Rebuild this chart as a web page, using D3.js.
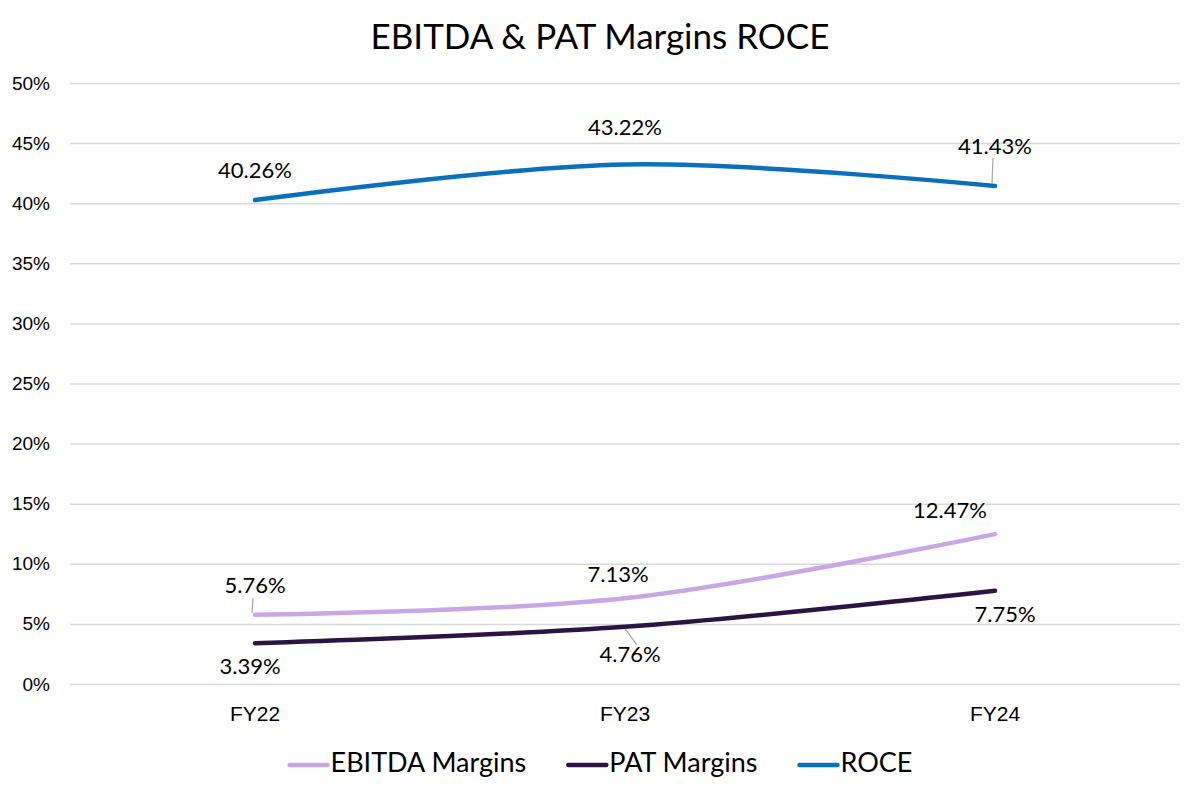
<!DOCTYPE html>
<html lang="en">
  <head>
    <meta charset="UTF-8" />
    <title>EBITDA & PAT Margins ROCE</title>
    <style>
      body { margin: 0; background: #fff; }
      svg { font-family: Lato, 'Open Sans', sans-serif; }
    </style>
  </head>
  <body>
    <svg id="chart"></svg>
    <script src="https://d3js.org/d3.v7.min.js"></script>
    <script>
      const years = ['FY22', 'FY23', 'FY24'];
      const ebitdaMargins = [5.76, 7.13, 12.47];
      const patMargins = [3.39, 4.76, 7.75];
      const roce = [40.26, 43.22, 41.43];
      const yTicks = [0, 5, 10, 15, 20, 25, 30, 35, 40, 45, 50];

      const series = [
        { name: 'EBITDA Margins', values: ebitdaMargins, color: '#c8a8e2',
          // label offsets [dx, dy] from the point, optional leader line
          labels: [[0, -27, true], [-7, -22], [-45, -22]] },
        { name: 'PAT Margins', values: patMargins, color: '#2b1441',
          labels: [[-5, 25], [5, 30, true], [10, 26]] },
        { name: 'ROCE', values: roce, color: '#0b70bb',
          labels: [[0, -28], [0, -35], [0, -38, true]] },
      ];

      function getConfig() {
        let width = 1200;
        let height = 800;
        let margin = { top: 83, left: 70, right: 20, bottom: 116 };
        let bodyWidth = width - margin.left - margin.right;
        let bodyHeight = height - margin.top - margin.bottom;
        let container = d3.select('#chart').attr('width', width).attr('height', height);
        return { width, height, margin, bodyWidth, bodyHeight, container };
      }

      function getScales(config) {
        let xScale = d3.scaleBand().domain(years).range([0, config.bodyWidth]);
        let yScale = d3.scaleLinear().domain([0, 50]).range([config.bodyHeight, 0]);
        return { xScale, yScale };
      }

      function drawAxes(scales, config) {
        let { xScale, yScale } = scales;
        let { container, margin, bodyWidth, bodyHeight } = config;
        let body = container.append('g').attr('transform', `translate(${margin.left},${margin.top})`);

        // gridlines
        body.append('g')
          .call(d3.axisLeft(yScale).tickValues(yTicks).tickSize(-bodyWidth).tickFormat(''))
          .call((g) => g.select('.domain').remove())
          .call((g) => g.selectAll('line').attr('stroke', '#d9d9d9').attr('stroke-width', 1.5));

        // y labels
        body.append('g')
          .call(d3.axisLeft(yScale).tickValues(yTicks).tickSize(0).tickPadding(20).tickFormat((d) => d + '%'))
          .call((g) => g.select('.domain').remove())
          .call((g) => g.selectAll('text').attr('font-size', 19).attr('fill', '#000').attr('font-family', null));

        // x labels
        body.append('g')
          .attr('transform', `translate(0,${bodyHeight})`)
          .call(d3.axisBottom(xScale).tickSize(0).tickPadding(22))
          .call((g) => g.select('.domain').remove())
          .call((g) => g.selectAll('text').attr('font-size', 21).attr('fill', '#000').attr('font-family', null));
        return body;
      }

      function drawLines(body, scales) {
        let { xScale, yScale } = scales;
        let cx = (i) => xScale(years[i]) + xScale.bandwidth() / 2;
        let line = d3.line()
          .x((d, i) => cx(i))
          .y((d) => yScale(d))
          .curve(d3.curveCatmullRom.alpha(0.5));

        series.forEach((s) => {
          body.append('path')
            .attr('d', line(s.values))
            .attr('fill', 'none')
            .attr('stroke', s.color)
            .attr('stroke-width', 4.5)
            .attr('stroke-linecap', 'round');
        });

        series.forEach((s) => {
          s.values.forEach((v, i) => {
            let [dx, dy, leader] = s.labels[i];
            let px = cx(i);
            let py = yScale(v);
            if (leader) {
              let sx = dy < 0 ? -4 : -14;
              body.append('line')
                .attr('x1', px + (dy < 0 ? -3 : 0))
                .attr('y1', py + (dy < 0 ? -2 : 2))
                .attr('x2', px + dx + sx / 2 + (dy < 0 ? 0 : 14))
                .attr('y2', py + dy + (dy < 0 ? 10 : -12))
                .attr('stroke', '#a6a6a6')
                .attr('stroke-width', 1.2);
            }
            body.append('text')
              .attr('x', px + dx)
              .attr('y', py + dy)
              .attr('text-anchor', 'middle')
              .attr('dominant-baseline', 'middle')
              .attr('font-size', 22)
              .text(v.toFixed(2) + '%');
          });
        });
      }

      function drawTitle(config) {
        config.container.append('text')
          .attr('x', config.width / 2)
          .attr('y', 40)
          .attr('text-anchor', 'middle')
          .attr('dominant-baseline', 'middle')
          .attr('font-size', 35)
          .text('EBITDA & PAT Margins ROCE');
      }

      function drawLegend(config) {
        let legend = config.container.append('g');
        let x = 0;
        let swatch = 40;
        let gap = 40;
        series.forEach((s) => {
          let item = legend.append('g').attr('transform', `translate(${x},0)`);
          item.append('line')
            .attr('x1', 2).attr('x2', swatch)
            .attr('y1', 0).attr('y2', 0)
            .attr('stroke', s.color)
            .attr('stroke-width', 4.5)
            .attr('stroke-linecap', 'round');
          let t = item.append('text')
            .attr('x', swatch + 3)
            .attr('y', 0)
            .attr('dominant-baseline', 'middle')
            .attr('font-size', 27)
            .text(s.name);
          x += swatch + 3 + t.node().getComputedTextLength() + gap;
        });
        let total = x - gap;
        legend.attr('transform', `translate(${(config.width - total) / 2},765)`);
      }

      let config = getConfig();
      let scales = getScales(config);
      let body = drawAxes(scales, config);
      drawLines(body, scales);
      drawTitle(config);
      drawLegend(config);
    </script>
  </body>
</html>
